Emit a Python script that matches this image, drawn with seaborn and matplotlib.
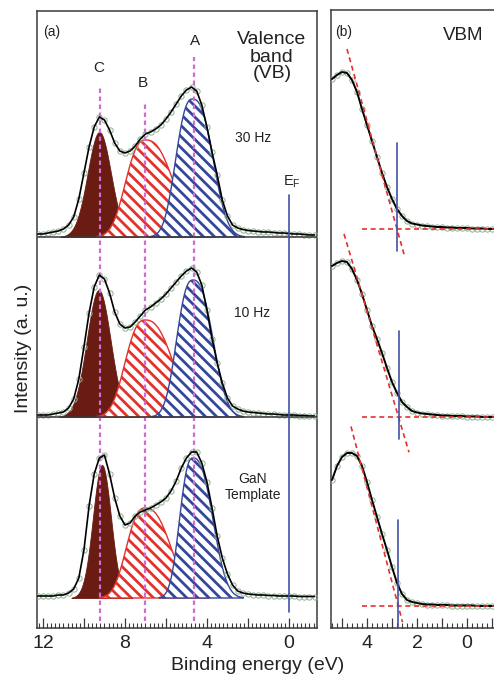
import numpy as np
import matplotlib
matplotlib.use("Agg")
import matplotlib.pyplot as plt
from matplotlib.ticker import MultipleLocator, FuncFormatter
import seaborn as sns

# ---------------- data ----------------
sample_names = ["30 Hz", "10 Hz", "GaN\nTemplate"]

# (a) valence band envelopes, intensity in a.u.
energy_vb = [12.25, 12.0, 11.75, 11.5, 11.25, 11.0, 10.75, 10.5, 10.25, 10.0,
             9.75, 9.5, 9.25, 9.0, 8.75, 8.5, 8.25, 8.0, 7.75, 7.5,
             7.25, 7.0, 6.75, 6.5, 6.25, 6.0, 5.75, 5.5, 5.25, 5.0,
             4.75, 4.5, 4.25, 4.0, 3.75, 3.5, 3.25, 3.0, 2.75, 2.5,
             2.25, 2.0, 1.75, 1.5, 1.25, 1.0, 0.75, 0.5, 0.25, 0.0,
             -0.25, -0.5, -0.75, -1.0, -1.25]
vb_30hz = [3, 3, 4, 5, 6, 8, 12, 20, 38, 64,
           90, 110, 120, 117, 107, 94, 86, 84, 86, 91,
           98, 103, 105, 108, 112, 118, 125, 133, 141, 147,
           150, 146, 132, 110, 85, 62, 37, 21, 12, 9,
           7.5, 6.5, 6, 5.5, 5, 5, 4.5, 4, 4, 3.5,
           3, 3, 2.5, 2, 2]
vb_10hz = [2, 2, 2, 3, 4, 5, 9, 18, 38, 70,
           104, 130, 142, 138, 124, 105, 93, 89, 90, 95,
           101, 107, 110, 114, 118, 123, 129, 135, 141, 146,
           149, 145, 132, 107, 78, 54, 34, 19, 11, 8,
           6, 5, 4.5, 4, 3.5, 3, 3, 2.5, 2, 2,
           2, 1.5, 1.5, 1, 1]
vb_gan = [2, 2, 2, 2, 3, 3, 5, 9, 20, 48,
          92, 124, 140, 143, 124, 100, 82, 73, 75, 82,
          86, 88, 90, 93, 96, 100, 107, 117, 130, 140,
          146, 146, 135, 116, 90, 62, 40, 24, 13, 7,
          5, 4, 3.5, 3, 3, 2.5, 2.5, 2, 2, 2,
          2, 1.5, 1.5, 1.5, 1.5]

# fitted components C, B, A: centre (eV), height (a.u.),
# width on the high- and low-binding-energy side (eV), shape exponent
peak_labels = ["C", "B", "A"]
peak_lines = [9.22, 7.02, 4.63]
comp_center = [[9.25, 7.00, 4.70], [9.28, 7.02, 4.68], [9.12, 7.02, 4.68]]
comp_height = [[105, 97, 138], [127, 97, 137], [133, 90, 140]]
comp_width_hi = [[0.57, 0.92, 0.78], [0.58, 0.92, 0.76], [0.44, 0.86, 0.62]]
comp_width_lo = [[0.57, 1.30, 0.95], [0.58, 1.30, 0.93], [0.44, 1.20, 0.92]]
comp_shape = [2, 2.5, 2.5]

# (b) valence band maximum region
energy_vbm = [5.4, 5.2, 5.0, 4.8, 4.6, 4.4, 4.2, 4.0, 3.8, 3.6,
              3.4, 3.2, 3.0, 2.8, 2.6, 2.4, 2.2, 2.0, 1.8, 1.6,
              1.4, 1.2, 1.0, 0.8, 0.6, 0.4, 0.2, 0.0, -0.2, -0.4,
              -0.6, -0.8, -1.0, -1.2, -1.4, -1.6]
vbm_30hz = [150, 154, 157, 156, 149, 137, 120, 104, 88, 72,
            56, 42, 30, 20, 13, 8, 5.5, 4.5, 3.5, 3,
            2.5, 2, 2, 1.5, 1.5, 1, 1, 1, 0.5, 0.5,
            0.5, 0, 0, 0, 0, 0]
vbm_10hz = [151, 154, 156, 155, 148, 137, 123, 107, 91, 78,
            64, 49, 35, 24, 15, 10, 6, 4.5, 3.5, 3,
            2.5, 2, 1.5, 1.5, 1, 1, 1, 0.5, 0.5, 0.5,
            0, 0, 0, 0, 0, 0]
vbm_gan = [126, 140, 149, 153, 153, 150, 140, 124, 106, 89,
           72, 56, 39, 23, 12, 6, 4, 3, 2, 1.5,
           1.5, 1, 1, 1, 0.5, 0.5, 0.5, 0.5, 0.5, 0,
           0, 0, 0, 0, 0, 0]
vbm_values = [2.80, 2.74, 2.75]
vbm_slopes = [90, 84, 95]          # a.u. per eV of the linear extrapolation

# ---------------- style ----------------
sns.set_style("white")
plt.rcParams["font.family"] = ["Liberation Sans", "DejaVu Sans"]
plt.rcParams["mathtext.fontset"] = "custom"
plt.rcParams["mathtext.rm"] = "Liberation Sans"
plt.rcParams["hatch.linewidth"] = 2.0

C_BROWN = "#6A1B12"
C_RED = "#E3322C"
C_BLUE = "#33479C"
C_MAG = "#CF6CCF"
C_EF = "#4252A3"
C_PT = "#8FAF92"
C_SPINE = "#3a3a3a"
C_TXT = "#222222"

fig = plt.figure(figsize=(4.94, 6.76), dpi=100)
ax_a = fig.add_axes([37 / 494, 1 - 628 / 676, 280 / 494, 617 / 676])
ax_b = fig.add_axes([331 / 494, 1 - 628 / 676, 176 / 494, 618 / 676])

offs_a = [391, 211, 30]
offs_b = [399, 211, 22]

# ---------------- panel (a) ----------------
e_fine = np.linspace(12.4, -1.5, 800)
fills = [dict(facecolor=C_BROWN, edgecolor=C_BROWN, linewidth=0.6),
         dict(facecolor="white", edgecolor=C_RED, hatch="\\\\\\", linewidth=1.0),
         dict(facecolor="white", edgecolor=C_BLUE, hatch="\\\\\\", linewidth=1.0)]
for i, env in enumerate([vb_30hz, vb_10hz, vb_gan]):
    off = offs_a[i]
    for k in range(3):
        dx = e_fine - comp_center[i][k]
        w = np.where(dx > 0, comp_width_hi[i][k], comp_width_lo[i][k])
        g = comp_height[i][k] * np.exp(-0.5 * (np.abs(dx) / w) ** comp_shape[k])
        m = g > 0.4
        ax_a.fill_between(e_fine[m], off, off + g[m], zorder=1 + k, **fills[k])
    yy = np.array(env) + off
    sns.lineplot(x=energy_vb, y=yy, ax=ax_a, sort=False, estimator=None,
                 marker="o", markersize=3.8, markerfacecolor="none",
                 markeredgecolor=C_PT, markeredgewidth=0.7, linestyle="none",
                 zorder=5)
    sns.lineplot(x=energy_vb, y=yy, ax=ax_a, sort=False, estimator=None,
                 color="black", linewidth=1.2, zorder=6)

# separators between the stacked spectra
for off in offs_a[:2]:
    ax_a.axhline(off, color=C_SPINE, linewidth=1.1, zorder=7)

# peak position guides
tops = [543, 526, 571]
for c, t in zip(peak_lines, tops):
    ax_a.plot([c, c], [7, t], color=C_MAG, linewidth=1.6, dashes=(2, 1.6),
              zorder=4.5)
lab_pos = [(9.27, 560), (7.12, 545), (4.59, 587)]
for lab, (x, y) in zip(peak_labels, lab_pos):
    ax_a.text(x, y, lab, ha="center", va="center", fontsize=11, color=C_TXT)

# Fermi level
ax_a.plot([0, 0], [16, 433], color=C_EF, linewidth=1.2, zorder=7)
ax_a.text(-0.15, 446, r"E$_\mathregular{F}$", ha="center", va="center",
          fontsize=10.5, color=C_TXT)

ax_a.text(11.55, 596, "(a)", ha="center", va="center", fontsize=10, color=C_TXT)
ax_a.text(0.83, 571, "Valence\nband\n(VB)", ha="center", va="center",
          fontsize=14, linespacing=1.0, color=C_TXT)
name_pos = [(1.76, 490), (1.80, 315), (1.76, 141)]
for nm, (x, y) in zip(sample_names, name_pos):
    ax_a.text(x, y, nm, ha="center", va="center", fontsize=10,
              linespacing=1.1, color=C_TXT)

ax_a.set_xlim(12.29, -1.37)
ax_a.set_ylim(0, 617)

# ---------------- panel (b) ----------------
for i, env in enumerate([vbm_30hz, vbm_10hz, vbm_gan]):
    off = offs_b[i]
    yy = np.array(env) + off
    sns.lineplot(x=energy_vbm, y=yy, ax=ax_b, sort=False, estimator=None,
                 marker="o", markersize=3.8, markerfacecolor="none",
                 markeredgecolor=C_PT, markeredgewidth=0.7, linestyle="none",
                 zorder=5)
    sns.lineplot(x=energy_vbm, y=yy, ax=ax_b, sort=False, estimator=None,
                 color="black", linewidth=1.4, zorder=6)

slant_range = [(4.80, 2.48), (4.92, 2.32), (4.64, 2.58)]
for i in range(3):
    off = offs_b[i]
    v, s = vbm_values[i], vbm_slopes[i]
    e0, e1 = slant_range[i]
    ax_b.plot([e0, e1], [off + s * (e0 - v), off + s * (e1 - v)],
              color=C_RED, linewidth=1.2, dashes=(3, 2.2), zorder=7)
    ax_b.plot([4.2, -1.6], [off, off], color=C_RED, linewidth=1.2,
              dashes=(3, 2.2), zorder=7)
    ax_b.plot([v, v], [off - 22, off + 86], color=C_EF, linewidth=1.2, zorder=8)

ax_b.text(4.92, 596, "(b)", ha="center", va="center", fontsize=10, color=C_TXT)
ax_b.text(0.16, 593, "VBM", ha="center", va="center", fontsize=13.5, color=C_TXT)
ax_b.set_xlim(5.44, -1.6)
ax_b.set_ylim(0, 618)

# ---------------- axes cosmetics ----------------
def fmt(step):
    return FuncFormatter(lambda v, p: f"{int(round(v))}" if int(round(v)) % step == 0 else "")

for ax, maj, lab in [(ax_a, 2, 4), (ax_b, 1, 2)]:
    ax.xaxis.set_major_locator(MultipleLocator(maj))
    ax.xaxis.set_minor_locator(MultipleLocator(0.2))
    ax.xaxis.set_major_formatter(fmt(lab))
    ax.set_yticks([])
    ax.tick_params(axis="x", which="both", direction="in", bottom=True,
                   top=False, colors=C_SPINE, labelcolor=C_TXT,
                   labelsize=14, pad=5)
    ax.tick_params(axis="x", which="major", length=7, width=0.9)
    ax.tick_params(axis="x", which="minor", length=3.5, width=0.8)
    for sp in ax.spines.values():
        sp.set_color(C_SPINE)
        sp.set_linewidth(1.1)
    ax.set_xlabel("")
    ax.set_ylabel("")

ax_a.set_ylabel("Intensity (a. u.)", fontsize=14, color=C_TXT)
ax_a.yaxis.label.set_va("center")
ax_a.yaxis.set_label_coords(-0.05, 0.454)
fig.text(258 / 494, 1 - 665 / 676, "Binding energy (eV)", ha="center",
         va="center", fontsize=14, color=C_TXT)

fig.savefig("out.png", dpi=100)
